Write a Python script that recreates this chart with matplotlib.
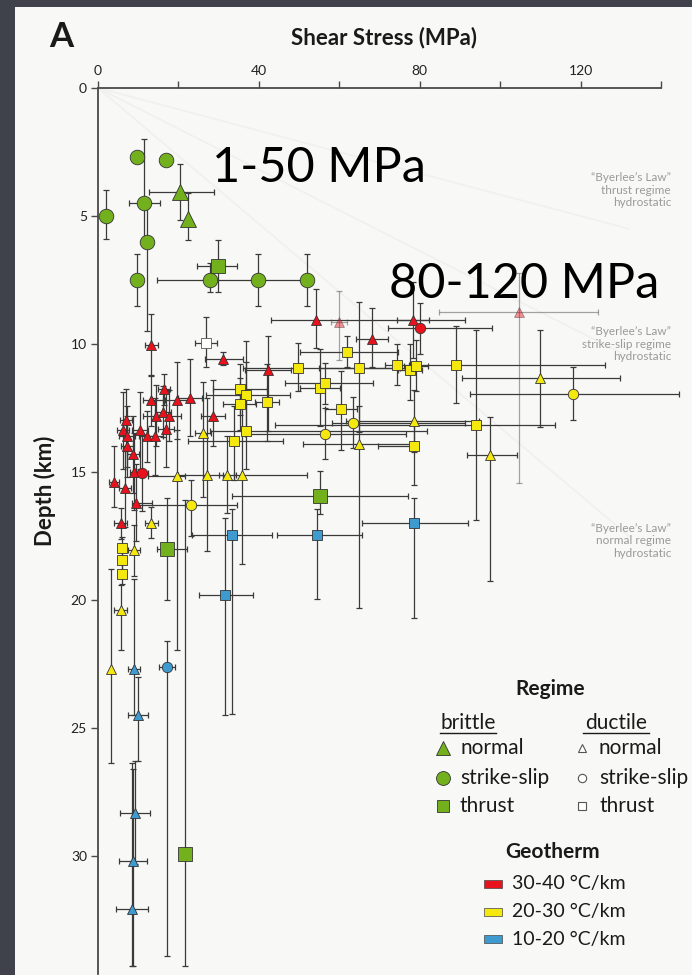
import numpy as np
import matplotlib.pyplot as plt
from matplotlib.patches import Rectangle

plt.rcParams['font.family'] = ['Lato', 'DejaVu Sans']

# ---- data (shear stress MPa, depth km, error bars as minus/plus amounts) ----
# brittle points (green)
brit_stress = [9.7, 16.8, 1.9, 11.5, 12.1, 20.5, 22.3, 29.9, 9.7, 27.8, 39.8, 51.9, 55.1, 17.2, 21.6]
brit_depth = [2.7, 2.8, 5.0, 4.5, 6.0, 4.05, 5.1, 6.95, 7.5, 7.5, 7.5, 7.5, 15.95, 18.0, 29.9]
brit_shape = ['o', 'o', 'o', 'o', 'o', '^', '^', 's', 'o', 'o', 'o', 'o', 's', 's', 's']
brit_xlo = [0, 0, 0, 3.8, 0, 7.9, 0, 5.2, 0, 13.2, 0, 0, 21.9, 2.5, 0]
brit_xhi = [0, 0, 0, 3.9, 0, 8.3, 0, 4.7, 0, 24.0, 0, 0, 22.0, 5.0, 0]
brit_ylo = [0, 0, 1.0, 2.5, 1.5, 1.1, 1.0, 1.0, 1.0, 0.65, 1.0, 1.0, 1.0, 2.0, 13.8]
brit_yhi = [0, 0, 0.9, 1.5, 3.5, 1.1, 0.85, 1.0, 1.0, 0.45, 1.0, 1.0, 0.7, 2.0, 4.4]

# geotherm 30-40 C/km (red)
red_stress = [54.2, 68.2, 78.4, 80.1, 13.2, 31.2, 42.2, 16.4, 13.2, 19.6, 22.9, 14.3, 16.1, 17.7,
              16.9, 28.7, 7.0, 6.3, 7.1, 7.3, 8.6, 10.4, 12.3, 14.2, 9.0, 10.9, 4.0, 6.7, 9.4, 5.6]
red_depth = [9.06, 9.8, 9.06, 9.39, 10.04, 10.6, 11.0, 11.77, 12.19, 12.19, 12.1, 12.8, 12.64, 12.8,
             13.32, 12.8, 12.97, 13.36, 13.6, 14.0, 14.3, 13.36, 13.6, 13.6, 14.98, 15.02, 15.37, 15.64, 16.2, 17.0]
red_shape = ['^', '^', '^', 'o', '^', '^', '^', '^', '^', '^', '^', '^', '^', '^',
             '^', '^', '^', '^', '^', '^', '^', '^', '^', '^', '^', 'o', '^', '^', '^', '^']
red_xlo = [11.3, 4, 4, 8, 1.6, 4.6, 5.7, 1.5, 2, 3, 3, 3, 2, 3, 2, 3, 1.5, 1.5, 2, 1.5, 1.5, 2, 2, 2, 1, 1.5, 1.2, 1.5, 1, 1.5]
red_xhi = [37.0, 4, 4, 17.8, 1.6, 4.9, 5.8, 1.5, 3, 3, 3, 3, 2, 3, 2, 3, 1.5, 1.5, 2, 1.5, 1.5, 2, 2, 2, 1, 1.5, 1.2, 1.5, 4, 1.5]
red_ylo = [1.2, 1.2, 1.5, 1.0, 1.2, 0.3, 1.3, 0.6, 1, 1.5, 1.5, 1.2, 1, 1, 1.5, 1.4, 1.2, 1.5, 1.2, 1.2, 1.5, 1.5, 1, 1.5, 1.5, 1.5, 1.4, 1.5, 1.5, 0.6]
red_yhi = [1.1, 1.1, 1.5, 1.0, 1.2, 0.2, 2.4, 0.6, 1, 1.5, 1.5, 1.2, 1, 1, 1.5, 1.2, 1.2, 1.5, 1.2, 1.2, 1.5, 1.5, 1, 1.5, 1.5, 1.5, 1.0, 1.5, 1.5, 0.6]

# faded red points
pink_stress = [60.0, 104.6]
pink_depth = [9.13, 8.74]
pink_xlo = [2, 19.9]
pink_xhi = [2, 19.8]
pink_ylo = [1.2, 1.5]
pink_yhi = [1.5, 6.7]

# geotherm 20-30 C/km (yellow)
yel_stress = [49.8, 61.9, 65.0, 74.3, 77.6, 79.0, 89.1, 110.0, 118.0, 94.0, 97.5, 78.7, 78.7,
              55.2, 56.5, 60.4, 63.3, 56.5, 64.8, 35.2, 36.8, 35.2, 42.1, 36.8, 33.9, 26.2,
              19.6, 27.0, 32.2, 35.9, 23.1, 13.3, 6.0, 6.0, 6.0, 9.0, 5.6, 3.2]
yel_depth = [10.95, 10.3, 10.95, 10.8, 11.0, 10.85, 10.8, 11.34, 11.95, 13.16, 14.34, 13.0, 14.0,
             11.7, 11.53, 12.55, 13.07, 13.5, 13.9, 11.77, 11.99, 12.34, 12.28, 13.38, 13.8, 13.49,
             15.15, 15.1, 15.1, 15.1, 16.3, 16.98, 17.95, 18.44, 18.98, 18.05, 20.4, 22.67]
yel_shape = ['s', 's', 's', 's', 's', 's', 's', '^', 'o', 's', '^', '^', 's',
             's', 's', 's', 'o', 'o', '^', 's', 's', 's', 's', 's', 's', '^',
             '^', '^', '^', '^', 'o', '^', 's', 's', 's', '^', '^', '^']
yel_xlo = [13.7, 11.7, 10, 3, 3, 3, 10, 19.5, 25.5, 50, 5.8, 17, 9,
           5, 10, 4, 5, 20, 13.7, 6.6, 10, 4, 3, 9, 11.5, 2,
           7.2, 7, 2, 2, 13.9, 1.5, 0.8, 0.8, 0.8, 1.5, 1.5, 0]
yel_xhi = [28, 12.7, 10, 3, 3, 3, 37, 19.9, 26.4, 19.7, 6.6, 16, 0,
           5, 12, 4, 28, 20, 14.1, 6.8, 11, 4, 3, 45, 12, 2,
           2, 4, 2, 16, 11.4, 1.5, 0.8, 0.8, 0.8, 1.5, 1.5, 0]
yel_ylo = [1.0, 0.6, 2.6, 0.8, 1.0, 1, 1.5, 1.9, 1.05, 3.7, 1.5, 1.2, 1,
           1.5, 0.8, 1.5, 1, 1, 1.5, 1, 1.3, 1, 1.5, 3.5, 1.4, 2,
           1.8, 3, 1.5, 3.5, 1, 0.6, 0.4, 0.4, 0.4, 1, 1, 3.9]
yel_yhi = [0.9, 0.6, 2.5, 0.8, 1.2, 1, 1.5, 1.9, 1.0, 3.7, 4.9, 1.2, 1.5,
           1.5, 0.8, 1.6, 1, 1, 6.4, 1, 1.3, 1, 1.5, 1.5, 1.5, 2.5,
           6.8, 3, 1.5, 3.5, 1.2, 0.6, 0.4, 0.4, 0.4, 1, 1.55, 3.7]

# geotherm 10-20 C/km (blue)
blu_stress = [78.6, 33.2, 54.4, 31.6, 9.0, 17.2, 9.9, 9.2, 8.6, 8.5]
blu_depth = [17.0, 17.46, 17.46, 19.78, 22.67, 22.6, 24.5, 28.3, 30.2, 32.07]
blu_shape = ['s', 's', 's', 's', '^', 'o', '^', '^', '^', '^']
blu_xlo = [13, 9.9, 10, 6.6, 1.5, 2, 2.5, 3.7, 3.5, 4]
blu_xhi = [13.3, 10, 11.2, 7, 1.5, 2, 2.5, 3.7, 3.5, 4]
blu_ylo = [1.0, 1.0, 1.0, 3, 3.5, 1, 1.5, 2, 3.6, 5.7]
blu_yhi = [3.7, 7.0, 2.5, 4.7, 1.8, 11.3, 1.8, 2, 4.1, 2.2]

# ductile thrust without geotherm (open square)
open_stress = [26.8]
open_depth = [9.95]
open_xlo, open_xhi = [2.7], [2.7]
open_ylo, open_yhi = [1.0], [0.95]

x_ticks = [0, 20, 40, 60, 80, 100, 120, 140]
x_labels = ['0', '', '40', '', '80', '', '120', '']
y_ticks = [0, 5, 10, 15, 20, 25, 30]

# ---- figure ----
W, H = 692, 975
fig = plt.figure(figsize=(W / 100, H / 100), dpi=100, facecolor='#3f424b')
fig.patches.append(Rectangle((15 / W, 0), 1, 1 - 7 / H, transform=fig.transFigure,
                             facecolor='#f8f8f6', edgecolor='none', zorder=-5))

ax = fig.add_axes([98 / W, 1 - 974 / H, 563 / W, 886 / H])
ax.set_facecolor('none')
ax.set_xlim(0, 140)
ax.set_ylim(34.6, 0)
for s in ['right', 'bottom']:
    ax.spines[s].set_visible(False)
for s in ['top', 'left']:
    ax.spines[s].set_color('#4a4a4a')
    ax.spines[s].set_linewidth(1.3)
ax.xaxis.tick_top()
ax.set_xticks(x_ticks)
ax.set_xticklabels(x_labels)
ax.set_yticks(y_ticks)
ax.tick_params(length=5, width=1, color='#4a4a4a', labelsize=10, labelcolor='#222222', pad=3)

# faint Byerlee's law lines
for d in [5.5, 10.5, 17.5]:
    ax.plot([0, 132], [0, d], color='#f0f0ee', lw=1.2, zorder=1)

ERR = '#3a3a3a'


def draw_group(stress, depth, shape, xlo, xhi, ylo, yhi, face, sizes, alpha=1.0, edge='#333333'):
    eb = ax.errorbar(stress, depth, xerr=[xlo, xhi], yerr=[ylo, yhi], fmt='none',
                     ecolor=ERR, elinewidth=0.9, capsize=2, capthick=0.9, alpha=alpha, zorder=2)
    for art in list(eb.lines[1]) + list(eb.lines[2]):
        art.set_clip_on(False)
    st = np.array(stress)
    dp = np.array(depth)
    sh = np.array(shape)
    for m in sorted(set(shape)):
        k = sh == m
        ax.plot(st[k], dp[k], ls='none', marker=m, ms=sizes[m], mfc=face, mec=edge,
                mew=0.6, alpha=alpha, zorder=3, clip_on=False)


small = {'o': 7.5, '^': 7.5, 's': 6.5}
draw_group(blu_stress, blu_depth, blu_shape, blu_xlo, blu_xhi, blu_ylo, blu_yhi, '#3d9bd0', small)
draw_group(yel_stress, yel_depth, yel_shape, yel_xlo, yel_xhi, yel_ylo, yel_yhi, '#f4e80f', small)
draw_group(red_stress, red_depth, red_shape, red_xlo, red_xhi, red_ylo, red_yhi, '#e8121c', small)
draw_group(pink_stress, pink_depth, ['^', '^'], pink_xlo, pink_xhi, pink_ylo, pink_yhi, '#e8121c', small, alpha=0.45)
draw_group(open_stress, open_depth, ['s'], open_xlo, open_xhi, open_ylo, open_yhi, 'white', small, edge='#555555')
draw_group(brit_stress, brit_depth, brit_shape, brit_xlo, brit_xhi, brit_ylo, brit_yhi, '#72b01d',
           {'o': 10.5, '^': 11, 's': 10.5})

# ---- text ----
fig.text(61 / W, 1 - 37 / H, 'A', fontsize=25, fontweight='bold', ha='center', va='center', color='#1a1a1a')
fig.text(384 / W, 1 - 38 / H, 'Shear Stress (MPa)', fontsize=16, fontweight='bold', ha='center', va='center', color='#1a1a1a')
fig.text(45 / W, 1 - 491 / H, 'Depth (km)', fontsize=16, fontweight='bold', rotation=90, ha='center', va='center', color='#1a1a1a')

fig.text(212 / W, 1 - 182 / H, '1-50 MPa', fontsize=35, fontweight='normal', ha='left', va='baseline', color='black')
fig.text(389 / W, 1 - 298 / H, '80-120 MPa', fontsize=35, fontweight='normal', ha='left', va='baseline', color='black')

byer = [('thrust regime', 190), ('strike-slip regime', 344), ('normal regime', 541)]
for reg, yc in byer:
    fig.text(671 / W, 1 - yc / H, '\u201cByerlee\u2019s Law\u201d\n' + reg + '\nhydrostatic',
             fontsize=8.5, color='#9a9a9a', ha='right', va='center', linespacing=1.15)

# ---- legend (figure pixel coordinates) ----
lg = fig.add_axes([0, 0, 1, 1])
lg.set_xlim(0, W)
lg.set_ylim(H, 0)
lg.axis('off')

lg.text(550, 689, 'Regime', fontsize=15, fontweight='bold', ha='center', va='center', color='#1a1a1a')
lg.text(468, 723, 'brittle', fontsize=15, ha='center', va='center', color='#1a1a1a')
lg.plot([440, 496], [733, 733], color='#1a1a1a', lw=1)
lg.text(616, 723, 'ductile', fontsize=15, ha='center', va='center', color='#1a1a1a')
lg.plot([583, 649], [733, 733], color='#1a1a1a', lw=1)

entries = [('^', 'normal', 748), ('o', 'strike-slip', 778), ('s', 'thrust', 806)]
big = {'^': 10, 'o': 10, 's': 8}
tiny = {'^': 6, 'o': 6, 's': 5.5}
for m, lab, yy in entries:
    lg.plot(443, yy, marker=m, ms=big[m], mfc='#72b01d', mec='#333333', mew=0.6)
    lg.text(460, yy, lab, fontsize=15, ha='left', va='center', color='#1a1a1a')
    lg.plot(582, yy, marker=m, ms=tiny[m], mfc='white', mec='#555555', mew=0.8)
    lg.text(599, yy, lab, fontsize=15, ha='left', va='center', color='#1a1a1a')

lg.text(553, 852, 'Geotherm', fontsize=15, fontweight='bold', ha='center', va='center', color='#1a1a1a')
geo = [('#e8121c', '30-40 \u00b0C/km', 884), ('#f4e80f', '20-30 \u00b0C/km', 912), ('#3d9bd0', '10-20 \u00b0C/km', 939)]
for col, lab, yy in geo:
    lg.add_patch(Rectangle((484, yy - 4), 18, 8, facecolor=col, edgecolor='#444444', lw=0.5))
    lg.text(512, yy, lab, fontsize=14, ha='left', va='center', color='#1a1a1a')

fig.savefig('out.png', dpi=100, facecolor=fig.get_facecolor())
